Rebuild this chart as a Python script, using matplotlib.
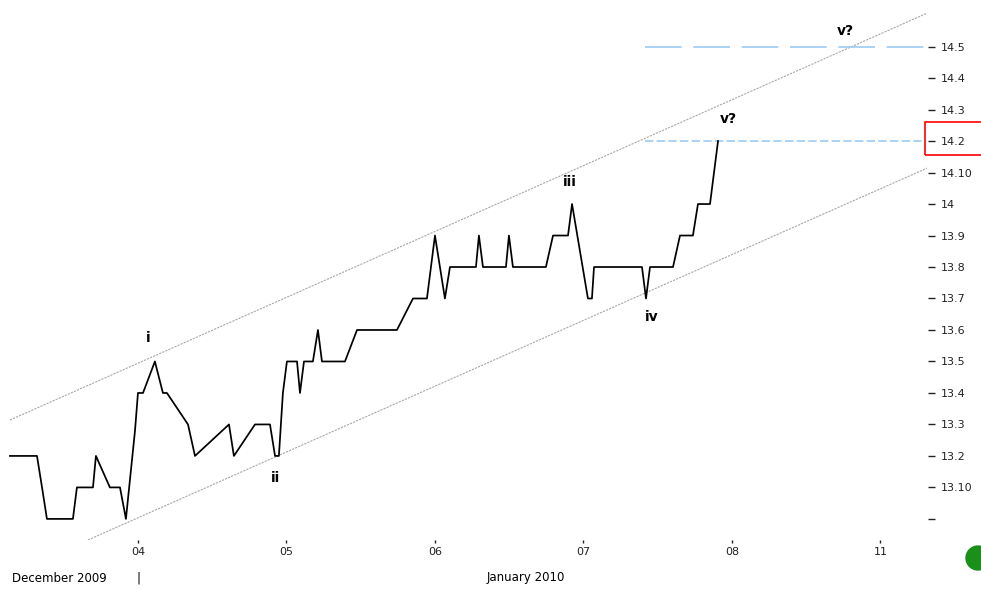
import matplotlib
matplotlib.use("Agg")
import matplotlib.pyplot as plt
from matplotlib.patches import Circle, Rectangle
from matplotlib.transforms import IdentityTransform

# price path, x in trading days from 04 Dec (04=0, 05=1, 06=2, 07=3, 08=4, 11=5)
px_x = [-0.862, -0.680, -0.646, -0.613, -0.438, -0.411, -0.303, -0.283, -0.189, -0.121,
        -0.081, -0.020, 0.000, 0.034, 0.114, 0.168, 0.195, 0.337, 0.384, 0.613,
        0.646, 0.788, 0.889, 0.923, 0.949, 0.976, 1.003, 1.071, 1.091, 1.118,
        1.178, 1.212, 1.239, 1.394, 1.475, 1.744, 1.852, 1.946, 2.000, 2.067,
        2.101, 2.276, 2.296, 2.323, 2.478, 2.498, 2.525, 2.747, 2.795, 2.896,
        2.923, 3.030, 3.057, 3.071, 3.394, 3.421, 3.448, 3.603, 3.650, 3.737,
        3.771, 3.852, 3.879, 3.906]
px_y = [13.2, 13.2, 13.1, 13.0, 13.0, 13.1, 13.1, 13.2, 13.1, 13.1,
        13.0, 13.28, 13.4, 13.4, 13.5, 13.4, 13.4, 13.3, 13.2, 13.3,
        13.2, 13.3, 13.3, 13.2, 13.2, 13.4, 13.5, 13.5, 13.4, 13.5,
        13.5, 13.6, 13.5, 13.5, 13.6, 13.6, 13.7, 13.7, 13.9, 13.7,
        13.8, 13.8, 13.9, 13.8, 13.8, 13.9, 13.8, 13.8, 13.9, 13.9,
        14.0, 13.7, 13.7, 13.8, 13.8, 13.7, 13.8, 13.8, 13.9, 13.9,
        14.0, 14.0, 14.1, 14.2]

# channel lines
upper_x = [-0.862, 5.313]
upper_y = [13.314, 14.606]
lower_x = [-0.337, 5.313]
lower_y = [12.933, 14.114]

# target levels
target_x = [3.414, 5.30]
target_lo = 14.2
target_hi = 14.5

# wave labels
wave_txt = ['i', 'ii', 'iii', 'iv', 'v?', 'v?']
wave_x = [0.067, 0.923, 2.909, 3.461, 3.973, 4.761]
wave_y = [13.575, 13.13, 14.07, 13.64, 14.27, 14.55]

xticks = [0, 1, 2, 3, 4, 5]
xlabels = ['04', '05', '06', '07', '08', '11']
yticks = [13.0, 13.1, 13.2, 13.3, 13.4, 13.5, 13.6, 13.7, 13.8, 13.9,
          14.0, 14.1, 14.2, 14.3, 14.4, 14.5]
ylabels = ['', '13.10', '13.2', '13.3', '13.4', '13.5', '13.6', '13.7', '13.8', '13.9',
           '14', '14.10', '14.2', '14.3', '14.4', '14.5']

fig = plt.figure(figsize=(9.81, 5.89), dpi=100)
ax = fig.add_axes([0, 49 / 589, 928 / 981, 540 / 589])

ax.plot(upper_x, upper_y, color='#a8a8a8', lw=0.8, ls=(0, (2, 1)))
ax.plot(lower_x, lower_y, color='#a8a8a8', lw=0.8, ls=(0, (2, 1)))
ax.plot(target_x, [target_lo, target_lo], color='#9ccbf2', lw=1.2, ls=(0, (5, 2)))
ax.plot(target_x, [target_hi, target_hi], color='#9ccbf2', lw=1.2, ls=(0, (22, 7)))
ax.plot(px_x, px_y, color='black', lw=1.25)

for t, x, y in zip(wave_txt, wave_x, wave_y):
    ax.text(x, y, t, fontsize=10, fontweight='bold', ha='center', va='center')

ax.set_xlim(-0.929, 5.320)
ax.set_ylim(12.933, 14.648)
ax.set_xticks(xticks)
ax.set_xticklabels(xlabels, fontsize=8)
ax.set_yticks(yticks)
ax.set_yticklabels(ylabels, fontsize=8)
ax.yaxis.tick_right()
ax.tick_params(axis='y', direction='out', length=5, width=1, pad=4, colors='#222222')
ax.tick_params(axis='x', direction='out', length=2, width=1, pad=3, colors='#222222')
for s in ax.spines.values():
    s.set_visible(False)

fig.text(12 / 981, 1 - 578 / 589, 'December 2009', fontsize=8.5, va='center', ha='left')
fig.text(138 / 981, 1 - 578 / 589, '|', fontsize=8.5, va='center', ha='center')
fig.text(487 / 981, 1 - 578 / 589, 'January 2010', fontsize=8.5, va='center', ha='left')

# red box round the 14.2 label
fig.add_artist(Rectangle((925 / 981, (589 - 155) / 589), 60 / 981, 33 / 589,
                         transform=fig.transFigure, fill=False, edgecolor='red', lw=1.2))
# green dot at bottom right
fig.add_artist(Circle((978, 31), 12, transform=IdentityTransform(), color='#1a8f1a'))

fig.savefig('out.png', dpi=100)
